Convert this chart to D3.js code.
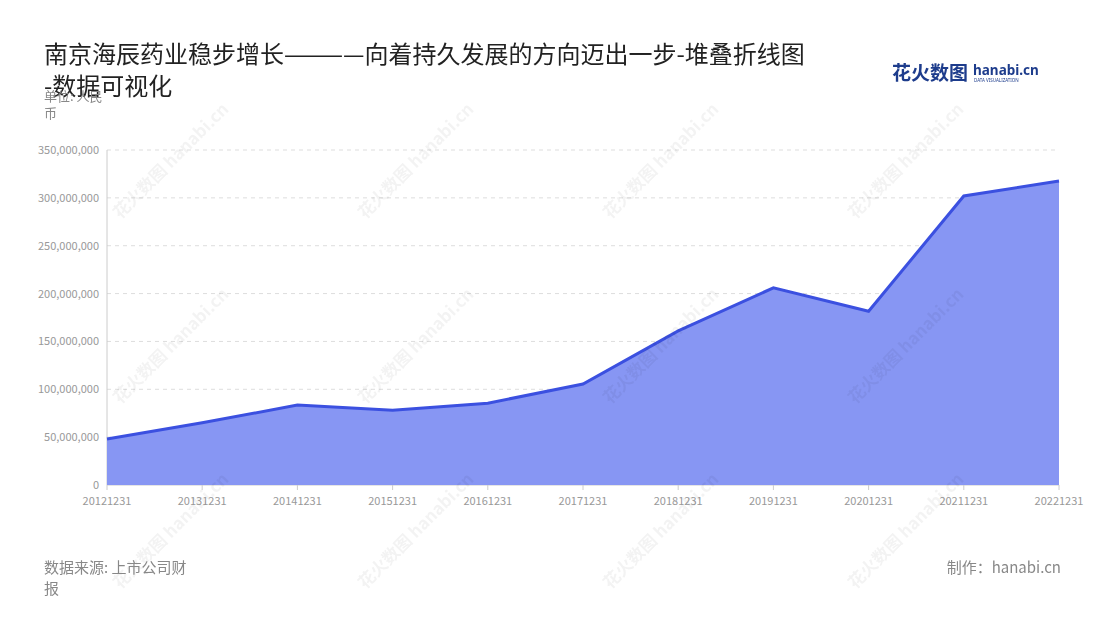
<!DOCTYPE html>
<html><head><meta charset="utf-8">
<script src="https://cdn.jsdelivr.net/npm/d3@7/dist/d3.min.js"></script>
<style>body{margin:0;background:#fff;font-family:"Noto Sans CJK SC","Noto Sans",sans-serif}</style>
</head><body><svg id="c" width="1100" height="620"></svg>
<script>
const categories=["20121231","20131231","20141231","20151231","20161231","20171231","20181231","20191231","20201231","20211231","20221231"];
const values=[48000000,65000000,83500000,78000000,85500000,105500000,161000000,206000000,181500000,302000000,317500000];
const yTicks=[0,50000000,100000000,150000000,200000000,250000000,300000000,350000000];
const svg=d3.select("#c");
const x=d3.scalePoint().domain(categories).range([107,1059]);
const y=d3.scaleLinear().domain([0,350000000]).range([485,150]);
const f="Noto Sans CJK SC";
svg.append("g").selectAll("line").data(yTicks.slice(1)).join("line")
 .attr("x1",107).attr("x2",1059).attr("y1",d=>y(d)).attr("y2",d=>y(d))
 .attr("stroke","#ddd").attr("stroke-dasharray","4,4");
svg.append("g").selectAll("text").data(yTicks).join("text")
 .attr("x",99).attr("y",d=>y(d)+4).attr("text-anchor","end").attr("font-size",11).attr("fill","#999").attr("font-family",f)
 .text(d=>d3.format(",")(d));
svg.append("line").attr("x1",107).attr("x2",107).attr("y1",150).attr("y2",485).attr("stroke","#ccc");
svg.append("line").attr("x1",107).attr("x2",1059).attr("y1",485).attr("y2",485).attr("stroke","#ccc");
svg.append("g").selectAll("line").data(categories).join("line")
 .attr("x1",d=>x(d)).attr("x2",d=>x(d)).attr("y1",485).attr("y2",490).attr("stroke","#ccc");
svg.append("g").selectAll("text").data(categories).join("text")
 .attr("x",d=>x(d)).attr("y",505).attr("text-anchor","middle").attr("font-size",11).attr("fill","#999").attr("font-family",f).text(d=>d);
const area=d3.area().x((d,i)=>x(categories[i])).y0(485).y1(d=>y(d));
const line=d3.line().x((d,i)=>x(categories[i])).y(d=>y(d));
svg.append("path").datum(values).attr("d",area).attr("fill","#8796f3");
svg.append("path").datum(values).attr("d",line).attr("fill","none").attr("stroke","#3b50e0").attr("stroke-width",3);
const wm=svg.append("g").attr("opacity",0.05);
for(let i=0;i<4;i++)for(let j=0;j<3;j++){
  const g=wm.append("g").attr("transform",`translate(${175+i*245},${165+j*185}) rotate(-45)`);
  g.append("text").attr("font-family",f).attr("font-size",17).attr("font-weight",700).attr("fill","#000").attr("text-anchor","middle").text("花火数图 hanabi.cn");
}
svg.append("text").attr("x",44).attr("y",63).attr("font-size",24).attr("fill","#222").attr("font-family",f).text("南京海辰药业稳步增长————向着持久发展的方向迈出一步-堆叠折线图");
svg.append("text").attr("x",44).attr("y",95).attr("font-size",24).attr("fill","#222").attr("font-family",f).text("-数据可视化");
svg.append("text").attr("x",44).attr("y",101).attr("font-size",13).attr("fill","#888").attr("font-family",f).text("单位: 人民");
svg.append("text").attr("x",44).attr("y",118).attr("font-size",13).attr("fill","#888").attr("font-family",f).text("币");
svg.append("text").attr("x",44).attr("y",573).attr("font-size",15).attr("fill","#888").attr("font-family",f).text("数据来源: 上市公司财");
svg.append("text").attr("x",44).attr("y",594).attr("font-size",15).attr("fill","#888").attr("font-family",f).text("报");
svg.append("text").attr("x",1061).attr("y",573).attr("text-anchor","end").attr("font-size",15).attr("fill","#888").attr("font-family",f).text("制作：hanabi.cn");
svg.append("text").attr("x",892).attr("y",80).attr("font-size",19).attr("font-weight",700).attr("fill","#1d3c8c").attr("font-family",f).text("花火数图");
svg.append("text").attr("x",973).attr("y",75).attr("font-size",13.5).attr("font-weight",700).attr("fill","#1d3c8c").attr("font-family","Noto Sans").text("hanabi.cn");
svg.append("text").attr("x",974).attr("y",82).attr("font-size",4.5).attr("fill","#1d3c8c").attr("font-family","Noto Sans").text("DATA VISUALIZATION");
</script></body></html>
